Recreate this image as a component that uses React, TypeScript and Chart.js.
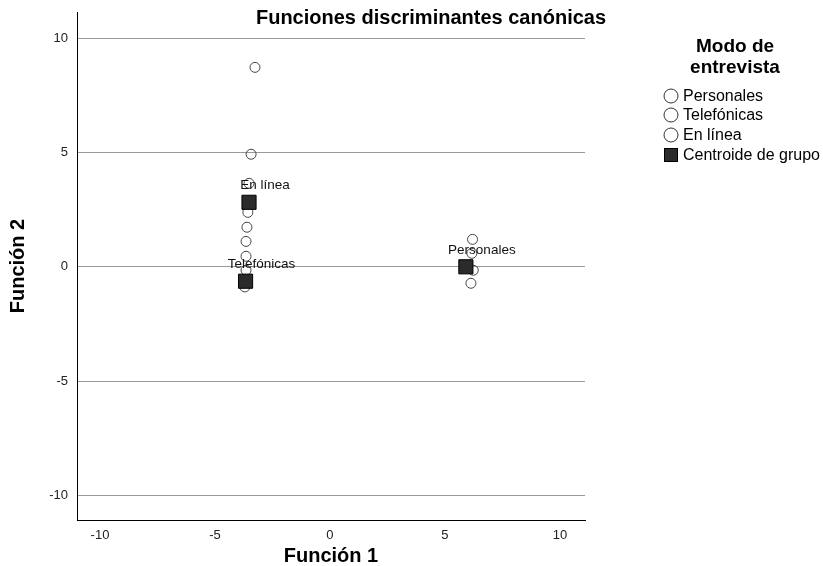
import { useEffect, useRef } from "react";
import { Chart, registerables } from "chart.js";

Chart.register(...registerables);

const FONT = "'Liberation Sans', Arial, Helvetica, sans-serif";

const TITLE = "Funciones discriminantes canónicas";
const X_TITLE = "Función 1";
const Y_TITLE = "Función 2";
const LEGEND_TITLE = ["Modo de", "entrevista"];
const GROUPS = ["Personales", "Telefónicas", "En línea"];
const CENTROID_NAME = "Centroide de grupo";

const X_TICKS = [-10, -5, 0, 5, 10];
const Y_TICKS = [-10, -5, 0, 5, 10];

const PERSONALES_X = [6.2, 6.17, 6.23, 6.13];
const PERSONALES_Y = [1.2, 0.59, -0.15, -0.72];

const TELEFONICAS_X = [-3.65, -3.7, -3.7];
const TELEFONICAS_Y = [-0.15, -0.6, -0.88];

const ENLINEA_X = [-3.26, -3.43, -3.52, -3.57, -3.61, -3.65, -3.65];
const ENLINEA_Y = [8.72, 4.92, 3.65, 2.38, 1.73, 1.11, 0.46];

const CENTROID_X = [5.91, -3.67, -3.52];
const CENTROID_Y = [0.0, -0.63, 2.82];

const toPts = (xs: number[], ys: number[]) => xs.map((x, i) => ({ x, y: ys[i] }));

const overlayPlugin = {
  id: "overlay",
  afterDatasetsDraw(chart: any) {
    const ctx = chart.ctx as CanvasRenderingContext2D;
    const xs = chart.scales.x;
    const ys = chart.scales.y;
    ctx.save();
    ctx.fillStyle = "#111";
    ctx.font = `13.5px ${FONT}`;
    ctx.textAlign = "center";
    ctx.textBaseline = "middle";
    GROUPS.forEach((g, i) => {
      const px = xs.getPixelForValue(CENTROID_X[i]);
      const py = ys.getPixelForValue(CENTROID_Y[i]);
      ctx.fillText(g, px + 16, py - 17);
    });
    ctx.restore();
  },
  afterDraw(chart: any) {
    const ctx = chart.ctx as CanvasRenderingContext2D;
    ctx.save();
    ctx.fillStyle = "#000";
    ctx.textAlign = "center";
    ctx.textBaseline = "middle";
    ctx.font = `bold 20px ${FONT}`;
    ctx.fillText(TITLE, 431, 18);
    ctx.font = `bold 19px ${FONT}`;
    ctx.fillText(LEGEND_TITLE[0], 735, 47);
    ctx.fillText(LEGEND_TITLE[1], 735, 68);

    ctx.font = `16px ${FONT}`;
    ctx.textAlign = "left";
    const rows = [96, 115, 135, 155];
    GROUPS.forEach((g, i) => {
      ctx.beginPath();
      ctx.arc(671, rows[i], 7, 0, Math.PI * 2);
      ctx.strokeStyle = "#333";
      ctx.lineWidth = 1;
      ctx.stroke();
      ctx.fillStyle = "#000";
      ctx.fillText(g, 683, rows[i] + 1);
    });
    ctx.fillStyle = "#2b2b2b";
    ctx.fillRect(664, rows[3] - 7, 14, 14);
    ctx.strokeStyle = "#000";
    ctx.strokeRect(664.5, rows[3] - 6.5, 13, 13);
    ctx.fillStyle = "#000";
    ctx.fillText(CENTROID_NAME, 683, rows[3] + 1);
    ctx.restore();
  },
};

export default function App() {
  const ref = useRef<HTMLCanvasElement>(null);

  useEffect(() => {
    if (!ref.current) return;
    const circleStyle = {
      type: "scatter" as const,
      pointStyle: "circle",
      pointRadius: 5,
      pointBackgroundColor: "rgba(0,0,0,0)",
      pointBorderColor: "#444",
      pointBorderWidth: 1,
      order: 2,
    };
    const chart = new Chart(ref.current, {
      type: "scatter",
      data: {
        datasets: [
          { ...circleStyle, label: GROUPS[0], data: toPts(PERSONALES_X, PERSONALES_Y) },
          { ...circleStyle, label: GROUPS[1], data: toPts(TELEFONICAS_X, TELEFONICAS_Y) },
          { ...circleStyle, label: GROUPS[2], data: toPts(ENLINEA_X, ENLINEA_Y) },
          {
            type: "scatter",
            label: CENTROID_NAME,
            data: toPts(CENTROID_X, CENTROID_Y),
            pointStyle: "rect",
            pointRadius: 10,
            pointBackgroundColor: "#2b2b2b",
            pointBorderColor: "#000",
            pointBorderWidth: 1,
            order: 1,
          },
        ],
      },
      options: {
        responsive: false,
        animation: false,
        devicePixelRatio: 1,
        layout: { padding: { left: 0, top: 12, right: 238, bottom: 0 } },
        plugins: {
          legend: { display: false },
          tooltip: { enabled: false },
          title: { display: false },
        },
        scales: {
          x: {
            type: "linear",
            min: -11.0,
            max: 11.09,
            afterBuildTicks: (s: any) => {
              s.ticks = X_TICKS.map((v) => ({ value: v }));
            },
            afterFit: (s: any) => {
              s.height = 46;
              s.paddingLeft = 0;
              s.paddingRight = 0;
            },
            grid: { display: false, drawTicks: false },
            border: { display: true, color: "#000", width: 1 },
            ticks: {
              color: "#222",
              padding: 8,
              font: { family: FONT, size: 13 },
              maxRotation: 0,
              callback: (v: any) => String(v),
            },
            title: {
              display: true,
              text: X_TITLE,
              color: "#000",
              font: { family: FONT, size: 20, weight: "bold", lineHeight: 1 },
              padding: { top: 0, bottom: 0 },
            },
          },
          y: {
            type: "linear",
            min: -11.07,
            max: 11.14,
            afterBuildTicks: (s: any) => {
              s.ticks = Y_TICKS.map((v) => ({ value: v }));
            },
            afterFit: (s: any) => {
              s.width = 77;
              s.paddingTop = 0;
              s.paddingBottom = 0;
            },
            grid: { display: true, color: "#999", lineWidth: 1, drawTicks: false },
            border: { display: true, color: "#000", width: 1 },
            ticks: {
              color: "#222",
              padding: 9,
              font: { family: FONT, size: 13 },
              callback: (v: any) => String(v),
            },
            title: {
              display: true,
              text: Y_TITLE,
              color: "#000",
              font: { family: FONT, size: 20, weight: "bold", lineHeight: 1 },
              padding: { top: 8, bottom: 0 },
            },
          },
        },
      } as any,
      plugins: [overlayPlugin],
    });
    return () => chart.destroy();
  }, []);

  return (
    <div style={{ position: "fixed", left: 0, top: 0, width: 823, height: 566, background: "#fff" }}>
      <canvas ref={ref} width={823} height={566} style={{ display: "block" }} />
    </div>
  );
}
